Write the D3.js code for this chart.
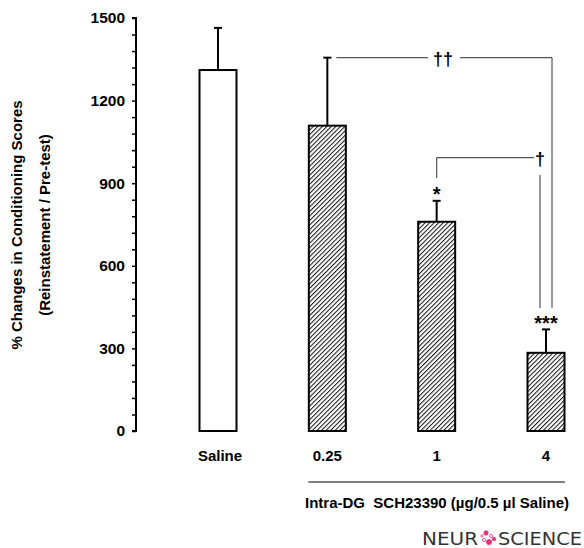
<!DOCTYPE html>
<html lang="en">
<head>
<meta charset="UTF-8">
<title>SCH23390 reinstatement</title>
<style>
    body { margin: 0; background: #fff; }
    svg text { font-family: "Liberation Sans", Arial, sans-serif; }
</style>
</head>
<body>
<div id="chart"></div>
<script src="https://d3js.org/d3.v7.min.js"></script>
<script>
    // data
    var groups = ["Saline", "0.25", "1", "4"];
    var means  = [1311, 1109, 760, 284];
    var errors = [153, 247, 76, 85];
    var hatched = [false, true, true, true];
    var yTicks = [0, 300, 600, 900, 1200, 1500];
    var starLabels = ["", "", "*", "***"];
    var starValues = [0, 0, 875, 407];

    var width = 584, height = 548;

    var svg = d3.select("#chart").append("svg")
        .attr("width", width)
        .attr("height", height);

    var y = d3.scaleLinear().domain([0, 1500]).range([431, 18]);
    var x = d3.scalePoint().domain(groups).range([218, 546]);
    var barW = 37;

    // hatch pattern
    var pat = svg.append("defs").append("pattern")
        .attr("id", "hatch")
        .attr("patternUnits", "userSpaceOnUse")
        .attr("width", 3.2)
        .attr("height", 3.2)
        .attr("patternTransform", "rotate(45)");
    pat.append("rect").attr("width", 3.2).attr("height", 3.2).attr("fill", "#fff");
    pat.append("line")
        .attr("x1", 0).attr("y1", 0).attr("x2", 0).attr("y2", 3.2)
        .attr("stroke", "#111").attr("stroke-width", 2);

    // y axis
    var yAxis = d3.axisLeft(y)
        .tickValues(d3.range(0, 1501, 60))
        .tickSize(4)
        .tickFormat(d => yTicks.includes(d) ? d : "");
    var gy = svg.append("g")
        .attr("transform", "translate(136,0)")
        .call(yAxis);
    gy.select(".domain").attr("stroke", "#000").attr("stroke-width", 2).attr("d", "M-4,431H0V18H-4");
    gy.selectAll(".tick line").attr("stroke", "#000").attr("stroke-width", 1.5);
    gy.selectAll(".tick text")
        .attr("x", -11)
        .style("font-size", "15.5px")
        .style("font-weight", "bold")
        .style("font-family", "'Liberation Sans', Arial, sans-serif")
        .attr("fill", "#000");

    // y label
    var yl = svg.append("text")
        .attr("transform", "translate(22,225) rotate(-90)")
        .style("text-anchor", "middle")
        .style("font-size", "15px")
        .style("font-weight", "bold");
    yl.append("tspan").attr("x", 0).attr("y", 0).text("% Changes in Conditioning Scores");
    yl.append("tspan").attr("x", 0).attr("y", 28).text("(Reinstatement / Pre-test)");

    // error bars
    groups.forEach(function(g, i) {
        var cx = x(g);
        svg.append("line")
            .attr("x1", cx).attr("x2", cx)
            .attr("y1", y(means[i])).attr("y2", y(means[i] + errors[i]))
            .attr("stroke", "#000").attr("stroke-width", 2);
        svg.append("line")
            .attr("x1", cx - 4).attr("x2", cx + 4)
            .attr("y1", y(means[i] + errors[i])).attr("y2", y(means[i] + errors[i]))
            .attr("stroke", "#000").attr("stroke-width", 2);
    });

    // bars
    svg.selectAll(".bar")
        .data(groups)
        .enter().append("rect")
        .attr("class", "bar")
        .attr("x", d => x(d) - barW / 2)
        .attr("y", (d, i) => y(means[i]))
        .attr("width", barW)
        .attr("height", (d, i) => y(0) - y(means[i]))
        .attr("fill", (d, i) => hatched[i] ? "url(#hatch)" : "#fff")
        .attr("stroke", "#000")
        .attr("stroke-width", 2);

    // x labels
    svg.selectAll(".xlab")
        .data(groups)
        .enter().append("text")
        .attr("class", "xlab")
        .attr("x", d => x(d) + (d === "Saline" ? 2 : 0))
        .attr("y", 461)
        .style("text-anchor", "middle")
        .style("font-size", "15px")
        .style("font-weight", "bold")
        .text(d => d);

    // group line + label
    svg.append("line")
        .attr("x1", x("0.25") - 19).attr("x2", x("4") + 19)
        .attr("y1", 482).attr("y2", 482)
        .attr("stroke", "#000").attr("stroke-width", 1.2);
    svg.append("text")
        .attr("x", 437)
        .attr("y", 508)
        .style("text-anchor", "middle")
        .style("font-size", "15px")
        .style("font-weight", "bold")
        .style("white-space", "pre")
        .text("Intra-DG  SCH23390 (\u00b5g/0.5 \u00b5l Saline)");

    // significance stars
    groups.forEach(function(g, i) {
        if (!starLabels[i]) return;
        svg.append("text")
            .attr("x", x(g))
            .attr("y", y(starValues[i]) + 11)
            .style("text-anchor", "middle")
            .style("font-size", "20px")
            .style("font-weight", "bold")
            .text(starLabels[i]);
    });

    // brackets
    var bc = "#555";
    function seg(x1, y1, x2, y2) {
        svg.append("line")
            .attr("x1", x1).attr("y1", y1).attr("x2", x2).attr("y2", y2)
            .attr("stroke", bc).attr("stroke-width", 1.2);
    }
    // 0.25 vs 4
    var b1 = y(1356);
    seg(x("0.25") + 9, b1, 428, b1);
    seg(460, b1, x("4") + 6, b1);
    seg(x("4") + 6, b1, x("4") + 6, y(447));
    svg.append("text")
        .attr("x", 443).attr("y", b1 + 7)
        .style("text-anchor", "middle")
        .style("font-size", "18px")
        .style("font-weight", "bold")
        .text("\u2020\u2020");
    // 1 vs 4
    var b2 = y(993);
    seg(x("1"), y(919), x("1"), b2);
    seg(x("1"), b2, x("4") - 12, b2);
    seg(x("4") - 6, y(930), x("4") - 6, y(447));
    svg.append("text")
        .attr("x", x("4") - 6).attr("y", b2 + 7)
        .style("text-anchor", "middle")
        .style("font-size", "18px")
        .style("font-weight", "bold")
        .text("\u2020");

    // journal logo
    var logo = svg.append("g").attr("transform", "translate(422,545)");
    logo.append("text")
        .attr("x", 0).attr("y", 0)
        .attr("textLength", 56)
        .attr("lengthAdjust", "spacingAndGlyphs")
        .style("font-family", "'DejaVu Sans', sans-serif")
        .style("font-size", "17px")
        .attr("fill", "#333")
        .text("NEUR");
    var dots = [[6, -12, 2.2], [11, -9, 1.6], [4, -5, 1.6], [9, -3, 2.6], [14, -6, 1.8], [2, -9, 1.2]];
    dots.forEach(function(d) {
        logo.append("circle")
            .attr("cx", 58 + d[0]).attr("cy", d[1]).attr("r", d[2])
            .attr("fill", d[2] < 1.7 ? "none" : "#e8327c")
            .attr("stroke", "#e8327c").attr("stroke-width", 0.8);
    });
    logo.append("text")
        .attr("x", 76).attr("y", 0)
        .attr("textLength", 84)
        .attr("lengthAdjust", "spacingAndGlyphs")
        .style("font-family", "'DejaVu Sans', sans-serif")
        .style("font-size", "17px")
        .attr("fill", "#333")
        .text("SCIENCE");
</script>
</body>
</html>
